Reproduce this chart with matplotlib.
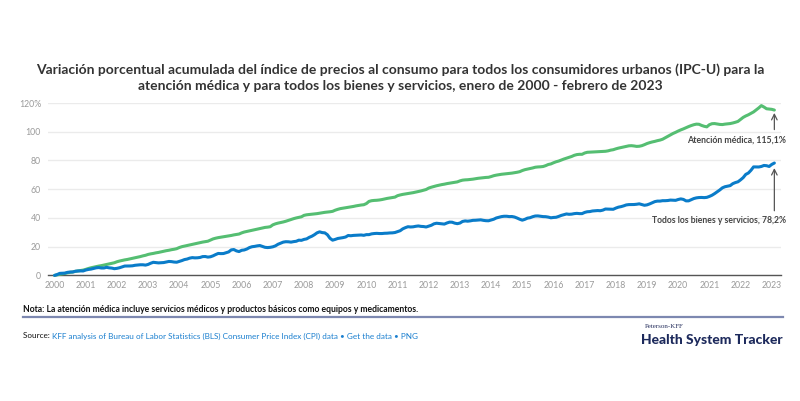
import matplotlib
matplotlib.use("Agg")
import matplotlib.pyplot as plt
import numpy as np

# ---------------- data ----------------
start_year = 2000
# CPI-U all items index, monthly Jan 2000 - Feb 2023
all_items_index = [
    168.8, 169.8, 171.2, 171.3, 171.5, 172.4, 172.8, 172.8, 173.7, 174.0, 174.1, 174.0,
    175.1, 175.8, 176.2, 176.9, 177.7, 178.0, 177.5, 177.5, 178.3, 177.7, 177.4, 176.7,
    177.1, 177.8, 178.8, 179.8, 179.8, 179.9, 180.1, 180.7, 181.0, 181.3, 181.3, 180.9,
    181.7, 183.1, 184.2, 183.8, 183.5, 183.7, 183.9, 184.6, 185.2, 185.0, 184.5, 184.3,
    185.2, 186.2, 187.4, 188.0, 189.1, 189.7, 189.4, 189.5, 189.9, 190.9, 191.0, 190.3,
    190.7, 191.8, 193.3, 194.6, 194.4, 194.5, 195.4, 196.4, 198.8, 199.2, 197.6, 196.8,
    198.3, 198.7, 199.8, 201.5, 202.5, 202.9, 203.5, 203.9, 202.9, 201.8, 201.5, 201.8,
    202.4, 203.5, 205.4, 206.7, 207.9, 208.4, 208.3, 207.9, 208.5, 208.9, 210.2, 210.0,
    211.1, 211.7, 213.5, 214.8, 216.6, 218.8, 220.0, 219.1, 218.8, 216.6, 212.4, 210.2,
    211.1, 212.2, 212.7, 213.2, 213.9, 215.7, 215.4, 215.8, 216.0, 216.2, 216.3, 215.9,
    216.7, 216.7, 217.6, 218.0, 218.2, 218.0, 218.0, 218.3, 218.4, 218.7, 218.8, 219.2,
    220.2, 221.3, 223.5, 224.9, 226.0, 225.7, 225.9, 226.5, 226.9, 226.4, 226.2, 225.7,
    226.7, 227.7, 229.4, 230.1, 229.8, 229.5, 229.1, 230.4, 231.4, 231.3, 230.2, 229.6,
    230.3, 232.2, 232.8, 232.5, 232.9, 233.5, 233.6, 233.9, 234.1, 233.5, 233.1, 233.0,
    233.9, 234.8, 236.3, 237.1, 237.9, 238.3, 238.3, 237.9, 238.0, 237.4, 236.2, 234.8,
    233.7, 234.7, 236.1, 236.6, 237.8, 238.6, 238.7, 238.3, 237.9, 237.8, 237.3, 236.5,
    236.9, 237.1, 238.1, 239.3, 240.2, 241.0, 240.6, 240.8, 241.4, 241.7, 241.4, 241.4,
    242.8, 243.6, 243.8, 244.5, 244.7, 245.0, 244.8, 245.5, 246.8, 246.7, 246.7, 246.5,
    247.9, 249.0, 249.6, 250.5, 251.6, 252.0, 252.0, 252.1, 252.4, 252.9, 252.0, 251.2,
    251.7, 252.8, 254.2, 255.5, 256.1, 256.1, 256.6, 256.6, 256.8, 257.3, 257.2, 257.0,
    258.0, 258.7, 258.1, 256.4, 256.4, 257.8, 259.1, 259.9, 260.3, 260.4, 260.2, 260.5,
    261.6, 263.0, 264.9, 267.1, 269.2, 271.7, 273.0, 273.6, 274.3, 276.6, 277.9, 278.8,
    281.1, 283.7, 287.5, 289.1, 292.3, 296.3, 296.3, 296.2, 296.8, 298.0, 297.7, 296.8,
    299.2, 300.84,
]
# Medical care, cumulative % change since Jan 2000
medical_care_pct = [
    0.0, 0.4, 0.8, 1.1, 1.4, 1.8, 2.1, 2.4, 2.8, 3.1, 3.4, 3.7,
    4.2, 4.8, 5.3, 5.7, 6.1, 6.5, 6.8, 7.2, 7.6, 8.0, 8.4, 8.8,
    9.5, 10.0, 10.4, 10.8, 11.1, 11.5, 11.9, 12.3, 12.7, 13.1, 13.6, 14.0,
    14.6, 15.0, 15.3, 15.7, 16.0, 16.4, 16.8, 17.2, 17.5, 17.9, 18.2, 18.6,
    19.4, 20.0, 20.4, 20.8, 21.2, 21.6, 22.0, 22.4, 22.8, 23.2, 23.5, 23.8,
    24.6, 25.4, 25.9, 26.3, 26.6, 26.9, 27.2, 27.5, 27.8, 28.2, 28.5, 28.8,
    29.6, 30.2, 30.6, 31.0, 31.4, 31.8, 32.2, 32.6, 33.0, 33.4, 33.6, 33.9,
    35.2, 35.9, 36.4, 36.8, 37.2, 37.7, 38.3, 38.9, 39.5, 40.0, 40.4, 40.8,
    41.8, 42.2, 42.4, 42.6, 42.8, 43.0, 43.3, 43.6, 43.9, 44.1, 44.3, 44.6,
    45.4, 46.0, 46.5, 46.8, 47.1, 47.4, 47.7, 48.0, 48.4, 48.7, 49.0, 49.2,
    50.0, 51.5, 52.0, 52.2, 52.3, 52.5, 52.8, 53.2, 53.6, 53.9, 54.2, 54.5,
    55.5, 56.0, 56.4, 56.7, 57.0, 57.3, 57.6, 58.0, 58.4, 58.8, 59.3, 59.8,
    60.8, 61.4, 61.9, 62.4, 62.8, 63.2, 63.5, 63.9, 64.2, 64.5, 64.8, 65.1,
    65.8, 66.3, 66.5, 66.6, 66.8, 67.0, 67.3, 67.6, 67.8, 68.0, 68.2, 68.3,
    68.8, 69.4, 69.8, 70.1, 70.4, 70.6, 70.8, 71.0, 71.2, 71.5, 71.8, 72.2,
    73.0, 73.6, 74.0, 74.4, 74.8, 75.3, 75.5, 75.6, 75.8, 76.4, 77.2, 77.6,
    78.4, 79.1, 79.6, 80.3, 81.0, 81.6, 82.2, 82.8, 83.6, 84.1, 84.3, 84.3,
    85.2, 85.7, 85.8, 85.9, 86.0, 86.1, 86.2, 86.3, 86.4, 86.7, 87.2, 87.5,
    88.1, 88.6, 89.0, 89.4, 89.8, 90.2, 90.3, 90.1, 89.8, 89.9, 90.3, 91.0,
    91.8, 92.4, 92.9, 93.3, 93.8, 94.2, 94.8, 95.8, 96.8, 97.8, 98.8, 99.6,
    100.5, 101.3, 102.0, 102.8, 103.6, 104.3, 104.9, 105.3, 105.2, 104.4, 103.8, 103.4,
    104.9, 105.6, 105.7, 105.4, 105.1, 105.0, 105.3, 105.5, 105.7, 106.1, 106.6, 107.2,
    108.6, 110.0, 111.0, 111.8, 112.8, 113.8, 115.2, 116.6, 118.2, 117.2, 116.0, 115.8,
    115.6, 115.1,
]
year_ticks = list(range(2000, 2024))
y_ticks = [0, 20, 40, 60, 80, 100, 120]
y_tick_labels = ["0", "20", "40", "60", "80", "100", "120%"]
label_medical = "Atención médica, 115,1%"
label_all = "Todos los bienes y servicios, 78,2%"
title = ("Variación porcentual acumulada del índice de precios al consumo para todos los consumidores urbanos (IPC-U) para la\n"
         "atención médica y para todos los bienes y servicios, enero de 2000 - febrero de 2023")
note = "Nota: La atención médica incluye servicios médicos y productos básicos como equipos y medicamentos."
source_label = "Source: "
source_link = "KFF analysis of Bureau of Labor Statistics (BLS) Consumer Price Index (CPI) data \u2022 Get the data \u2022 PNG"

# ---------------- derived ----------------
all_items_pct = (np.array(all_items_index) / all_items_index[0] - 1) * 100
n = len(all_items_index)
t = start_year + np.arange(n) / 12.0

GREEN = "#55be72"
BLUE = "#0a7cc9"
GRAY = "#9a9a9a"
DARK = "#333333"
NARROW = ['Liberation Sans Narrow', 'Lato', 'DejaVu Sans']

plt.rcParams['font.family'] = ['Lato', 'DejaVu Sans']

fig = plt.figure(figsize=(8.0, 4.01), dpi=100)
ax = fig.add_axes([0.06, 0.3132, 0.916, 0.4299])

ax.plot(t, medical_care_pct, color=GREEN, lw=2.2, solid_capstyle='round', clip_on=False, zorder=3)
ax.plot(t, all_items_pct, color=BLUE, lw=2.2, solid_capstyle='round', clip_on=False, zorder=4)

ax.set_xlim(1999.79, 2023.29)
ax.set_ylim(0, 120)
ax.set_xticks(year_ticks)
ax.set_xticklabels([str(y) for y in year_ticks])
ax.set_yticks(y_ticks)
ax.set_yticklabels(y_tick_labels)
ax.tick_params(axis='both', length=0, labelsize=6.3, colors=GRAY)
ax.tick_params(axis='x', pad=4)
ax.tick_params(axis='y', pad=5)
ax.grid(axis='y', color="#ebebeb", lw=1.0)
ax.set_axisbelow(True)
for s in ['top', 'right', 'left']:
    ax.spines[s].set_visible(False)
ax.spines['bottom'].set_color("#555555")
ax.spines['bottom'].set_linewidth(1.0)

# annotations
x_end = t[-1]
ax.annotate("", xy=(x_end, medical_care_pct[-1] - 2.0), xytext=(x_end, 101.5),
            arrowprops=dict(arrowstyle="->", color="#555555", lw=0.9, shrinkA=0, shrinkB=0))
ax.text(2023.47, 94.5, label_medical, ha='right', va='center', fontsize=6.3,
        fontweight='bold', color="#444444")
ax.annotate("", xy=(x_end, all_items_pct[-1] - 3.5), xytext=(x_end, 45),
            arrowprops=dict(arrowstyle="->", color="#555555", lw=0.9, shrinkA=0, shrinkB=0))
ax.text(2023.47, 38.5, label_all, ha='right', va='center', fontsize=6.2,
        fontweight='bold', color="#444444")

# title
fig.text(0.5, 1 - 77.5 / 401, title, ha='center', va='center', fontsize=10.0, fontweight='bold',
         color=DARK, linespacing=1.45)

# note
fig.text(23 / 800, 1 - 309 / 401, note, ha='left', va='center', fontsize=6.25,
         color="#111111", fontweight='bold', family=NARROW)

# rule
fig.add_artist(plt.Line2D([23 / 800, 783 / 800], [1 - 317 / 401, 1 - 317 / 401],
                          color="#7d88b0", lw=1.6, transform=fig.transFigure))

# source line
src_y = 1 - 336 / 401
t1 = fig.text(23 / 800, src_y, source_label, ha='left', va='center', fontsize=5.9,
              color="#111111", family=NARROW)
fig.canvas.draw()
bb = t1.get_window_extent()
x2 = bb.x1 / fig.bbox.width
fig.text(x2, src_y, source_link, ha='left', va='center', fontsize=5.9, color="#1a7fcf",
         family=NARROW)

# logo
fig.text(645 / 800, 1 - 327 / 401, "Peterson-KFF", ha='left', va='center', fontsize=5.0,
         color="#27305e", family=['Liberation Serif', 'DejaVu Serif'])
fig.text(783 / 800, 1 - 340 / 401, "Health System Tracker", ha='right', va='center',
         fontsize=10.0, fontweight='black', color="#1d2a5c")

fig.savefig("out.png", dpi=100)
